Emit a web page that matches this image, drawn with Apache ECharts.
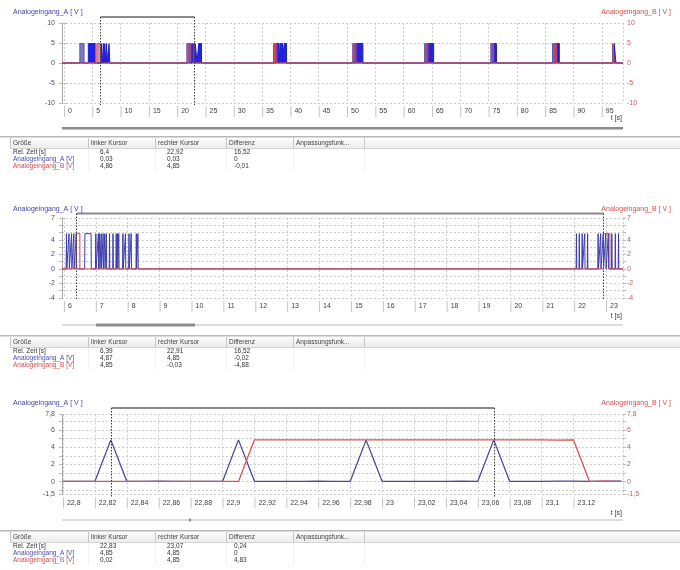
<!DOCTYPE html>
<html><head><meta charset="utf-8">
<script src="https://cdn.jsdelivr.net/npm/echarts@6/dist/echarts.min.js"></script>
<style>html,body{margin:0;padding:0;background:#fff}#c{width:680px;height:570px}</style>
</head><body><div id="c"></div>
<script>
// ---------------- data ----------------
const titleA = 'Analogeingang_A [ V ]';
const titleB = 'Analogeingang_B [ V ]';
const xUnit = 't [s]';
const pulseLevel = 4.85;

// Chart 1 : overview
const c1XTicks = [0,5,10,15,20,25,30,35,40,45,50,55,60,65,70,75,80,85,90,95];
const c1YLabels = [-10,-5,0,5,10];
const c1YGrid = [-10,-5,0,5,10];
const c1ADense = [[4.3,5.5],[6.6,6.8],[6.95,7.1],[7.2,7.35],[7.5,7.6],[7.95,8.1],[22.6,23.0],[23.2,23.5],[23.8,24.3],[37.6,38.0],[38.2,38.6],[38.9,39.3],[51.6,52.8],[64.3,65.3],[75.9,76.4],[87.0,87.5],[97.2,97.5]];
const c1ASparse = [[2.8,3.55],[21.7,22.5],[37.0,37.5],[51.0,51.5],[63.7,64.2],[75.4,75.8],[86.3,86.9],[96.9,97.15]];
const c1BPulses = [[5.8,6.45],[21.9,22.95],[37.2,37.6],[51.1,51.6],[63.9,64.3],[75.5,75.9],[86.5,87.0],[97.0,97.2]];
const c1Cursors = [6.4, 22.92];

// Chart 2 : 6 s – 23.5 s
const c2XTicks = [6,7,8,9,10,11,12,13,14,15,16,17,18,19,20,21,22,23];
const c2YLabels = [-4,-2,0,2,4,7];
const c2YGrid = [-4,-3,-2,-1,0,1,2,3,4,5,6,7];
const c2ASpikes = [6.08,6.16,6.24,6.31,6.39,7.0,7.08,7.12,7.17,7.23,7.28,7.33,7.43,7.54,7.64,7.68,7.72,7.85,7.93,8.04,8.11,8.27,8.32,22.07,22.16,22.25,22.33,22.42,22.75,22.83,22.91,22.99,23.07,23.18,23.29,23.39];
const c2ABlocks = [[6.65,6.86]];
const c2BPulses = [[6.38,6.5],[22.92,23.12]];
const c2Cursors = [6.39, 22.91];

// Chart 3 : 22.8 s – 23.15 s (samples every 10 ms)
const c3Time = [22.80,22.81,22.82,22.83,22.84,22.85,22.86,22.87,22.88,22.89,22.90,22.91,22.92,22.93,22.94,22.95,22.96,22.97,22.98,22.99,23.00,23.01,23.02,23.03,23.04,23.05,23.06,23.07,23.08,23.09,23.10,23.11,23.12,23.13,23.14,23.15];
const c3A    = [0.03,0.02,0.02,4.85,0.03,0.02,0.05,0.03,0.02,0.02,0.02,4.85,0.03,0.02,0.03,0.02,0.04,0.03,0.02,4.82,0.03,0.02,0.02,0.02,0.02,0.05,0.03,4.85,0.02,0.02,0.03,0.05,0.06,0.03,0.04,0.05];
const c3B    = [0.02,0.02,0.03,0.02,0.02,0.02,0.02,0.02,0.02,0.02,0.02,0.02,4.86,4.85,4.84,4.85,4.85,4.84,4.85,4.85,4.85,4.84,4.85,4.84,4.85,4.85,4.84,4.85,4.85,4.84,4.84,4.83,4.84,0.02,0.05,0.03];
const c3XTicks = [22.8,22.82,22.84,22.86,22.88,22.9,22.92,22.94,22.96,22.98,23,23.02,23.04,23.06,23.08,23.1,23.12];
const c3YLabels = [-1.5,0,2,4,6,7.8];
const c3YGrid = [-1.5,-1,0,1,2,3,4,5,6,7,7.8];
const c3Cursors = [22.83, 23.07];

// Tables
const tableHeader = ['Größe','linker Kursor','rechter Kursor','Differenz','Anpassungsfunk...'];
const rowNames = ['Rel. Zeit [s]','Analogeingang_A [V]','Analogeingang_B [V]'];
const table1 = [['6,4','22,92','16,52'],['0,03','0,03','0'],['4,86','4,85','-0,01']];
const table2 = [['6,39','22,91','16,52'],['4,87','4,85','-0,02'],['4,85','-0,03','-4,88']];
const table3 = [['22,83','23,07','0,24'],['4,85','4,85','0'],['0,02','4,85','4,83']];

// ---------------- helpers ----------------
const FONT = '"Liberation Sans", Arial, sans-serif';
const fmt = v => String(+(+v).toFixed(2)).replace('.', ',');
function blockLine(blocks, lvl, x0, x1){
  const pts=[[x0,0]];
  blocks.slice().sort((a,b)=>a[0]-b[0]).forEach(([s,e])=>{pts.push([s,0],[s,lvl],[e,lvl],[e,0]);});
  pts.push([x1,0]); return pts;
}
function shapeLine(spikes, blocks, lvl, x0, x1){
  const shapes=[];
  spikes.forEach(t=>shapes.push([[t-0.01,0],[t,lvl],[t+0.01,0]]));
  blocks.forEach(([s,e])=>shapes.push([[s,0],[s+0.01,lvl],[e-0.01,lvl],[e,0]]));
  shapes.sort((a,b)=>a[0][0]-b[0][0]);
  const pts=[[x0,0]]; shapes.forEach(s=>pts.push(...s)); pts.push([x1,0]); return pts;
}

const panels = [
  {top:23,  height:80, xMin:-0.35, xMax:98.75, yMin:-10, yMax:10, xTicks:c1XTicks, yLabels:c1YLabels, yGrid:c1YGrid, cursors:c1Cursors, bracket:6,  titleY:12,  unitY:118, scroll:{y:127, thumb:null, dark:true}},
  {top:218, height:80, xMin:5.94, xMax:23.53, yMin:-4, yMax:7, xTicks:c2XTicks, yLabels:c2YLabels, yGrid:c2YGrid, cursors:c2Cursors, bracket:4.5, titleY:209, unitY:316, scroll:{y:324, thumb:[96,195]}},
  {top:414.5, height:80, xMin:22.7994, xMax:23.151, yMin:-1.5, yMax:7.8, xTicks:c3XTicks, yLabels:c3YLabels, yGrid:c3YGrid, cursors:c3Cursors, bracket:6.5, titleY:403, unitY:513, scroll:{y:519, thumb:[189,191]}}
];
const GL = 62, GW = 561;

const grids=[], xAxes=[], yAxes=[];
panels.forEach((p,i)=>{
  grids.push({left:GL, width:GW, top:p.top, height:p.height, containLabel:false, outerBoundsMode:'none'});
  xAxes.push({type:'value', gridIndex:i, min:p.xMin, max:p.xMax,
    axisLine:{show:false}, axisTick:{show:false, customValues:p.xTicks.concat([p.xMax])},
    axisLabel:{customValues:p.xTicks, hideOverlap:false, align:'left', verticalAlign:'top', margin:3,
      formatter:v=>'{b|}{v|'+fmt(v)+'}',
      rich:{b:{width:1,height:11,backgroundColor:'#c4c4c4'}, v:{padding:[0,0,0,3], fontSize:7, fontFamily:FONT, color:'#404040', height:11}}},
    splitLine:{show:true, lineStyle:{color:'#cdcdcd', type:[2,2], width:1}}});
  yAxes.push({type:'value', gridIndex:i, min:p.yMin, max:p.yMax, position:'left',
    axisLine:{show:true, onZero:false, lineStyle:{color:'#a8a8a8'}},
    axisTick:{show:true, length:3, customValues:p.yGrid, lineStyle:{color:'#bcbcbc'}},
    axisLabel:{customValues:p.yLabels, formatter:fmt, color:'#4c4c7c', fontSize:7, fontFamily:FONT, margin:7, hideOverlap:false},
    splitLine:{show:true, lineStyle:{color:'#cdcdcd', type:[2,2], width:1}}});
  yAxes.push({type:'value', gridIndex:i, min:p.yMin, max:p.yMax, position:'right',
    axisLine:{show:false}, axisTick:{show:true, length:3, customValues:p.yGrid, lineStyle:{color:'#bcbcbc'}},
    axisLabel:{customValues:p.yLabels, formatter:fmt, color:'#c85a5a', fontSize:7, fontFamily:FONT, margin:4, hideOverlap:false},
    splitLine:{show:false}});
});

const base = {type:'line', showSymbol:false, symbol:'none', animation:false, clip:true};
const series = [
  Object.assign({}, base, {xAxisIndex:0, yAxisIndex:0, data:blockLine(c1ASparse,pulseLevel,panels[0].xMin,panels[0].xMax),
    lineStyle:{color:'#5a5aa8', width:1}, areaStyle:{color:'#7c7cc4', opacity:1}}),
  Object.assign({}, base, {xAxisIndex:0, yAxisIndex:0, data:blockLine(c1ADense,pulseLevel,panels[0].xMin,panels[0].xMax),
    lineStyle:{color:'#1c1cd8', width:1}, areaStyle:{color:'#2222e6', opacity:1}}),
  Object.assign({}, base, {xAxisIndex:0, yAxisIndex:1, data:blockLine(c1BPulses,pulseLevel,panels[0].xMin,panels[0].xMax),
    lineStyle:{color:'#d84646', width:1}, areaStyle:{color:'rgba(150,40,120,0.5)', opacity:1}}),
  Object.assign({}, base, {xAxisIndex:1, yAxisIndex:2, data:shapeLine(c2ASpikes,c2ABlocks,pulseLevel,panels[1].xMin,panels[1].xMax),
    lineStyle:{color:'#3c3cb0', width:1}}),
  Object.assign({}, base, {xAxisIndex:1, yAxisIndex:3, data:blockLine(c2BPulses,pulseLevel,panels[1].xMin,panels[1].xMax),
    lineStyle:{color:'#dc4444', width:1}}),
  Object.assign({}, base, {xAxisIndex:2, yAxisIndex:4, data:c3Time.map((t,k)=>[t,c3A[k]]),
    lineStyle:{color:'#4a4a9c', width:1.3}}),
  Object.assign({}, base, {xAxisIndex:2, yAxisIndex:5, data:c3Time.map((t,k)=>[t,c3B[k]]),
    lineStyle:{color:'#dc5252', width:1.3}})
];

const chart = echarts.init(document.getElementById('c'), null, {renderer:'canvas'});
chart.setOption({animation:false, backgroundColor:'#fff', grid:grids, xAxis:xAxes, yAxis:yAxes, series:series});

// ---------------- overlays (titles, cursors, scrollbars, tables) ----------------
const g = [];
const txt = (x,y,t,fill,align,size) => g.push({type:'text', silent:true, z:10, style:{x, y, text:t, fill, font:(size||7)+'px '+FONT, textAlign:align||'left', textVerticalAlign:'middle'}});
const line = (x1,y1,x2,y2,stroke,w,dash,z) => g.push({type:'line', silent:true, z:z||10, shape:{x1,y1,x2,y2}, style:{stroke, lineWidth:w||1, lineDash:dash||null}});
const rect = (x,y,w,h,fill,stroke) => g.push({type:'rect', silent:true, z:9, shape:{x,y,width:w,height:h}, style:{fill, stroke:stroke||null, lineWidth:1}});

panels.forEach((p,i)=>{
  txt(13, p.titleY, titleA, '#4545ae');
  txt(671, p.titleY, titleB, '#d64e4e', 'right');
  txt(622, p.unitY, xUnit, '#404040', 'right');
  const top = p.top, bot = p.top + p.height, by = top - p.bracket;
  const xs = p.cursors.map(c => Math.round(chart.convertToPixel({gridIndex:i}, [c, p.yMax])[0]) + 0.5);
  line(xs[0], by, xs[1], by, '#8a8a8a', 2);
  xs.forEach(x => line(x, by, x, bot + 2, '#3a3a3a', 1, [1.5,1.5], 11));
  if (p.scroll.dark) rect(GL, p.scroll.y, GW, 2.5, '#8c8c8c');
  else {
    rect(GL, p.scroll.y, GW, 2, '#dcdcdc');
    rect(p.scroll.thumb[0], p.scroll.y - 0.5, p.scroll.thumb[1]-p.scroll.thumb[0], 3, '#8c8c8c');
  }
});

const colX = [10, 88, 155, 226, 293, 364];
const valX = [100, 167, 234];
const rowColors = ['#333333', '#4a4ab4', '#d64a4a'];
function drawTable(y0, vals){
  rect(0, y0, 680, 1.5, '#b8b8b8');
  g.push({type:'rect', silent:true, z:9, shape:{x:colX[0], y:y0+2, width:680-colX[0], height:10},
    style:{fill:{type:'linear',x:0,y:0,x2:0,y2:1,colorStops:[{offset:0,color:'#fcfcfc'},{offset:1,color:'#ececec'}]}}});
  line(colX[0], y0+12.5, 680, y0+12.5, '#d4d4d4');
  colX.forEach(x => line(x+0.5, y0+2, x+0.5, y0+12, '#c6c6c6'));
  colX.slice(1).forEach(x => line(x+0.5, y0+13, x+0.5, y0+35, '#f2f2f2', 1, null, 8));
  tableHeader.forEach((h,k) => txt(colX[k]+3, y0+7.5, h, '#444444', 'left', 6.5));
  rowNames.forEach((n,r) => {
    const y = y0 + 16 + r*7;
    txt(13, y, n, rowColors[r], 'left', 6.5);
    vals[r].forEach((v,k) => txt(valX[k], y, v, '#333333', 'left', 6.5));
  });
}
drawTable(136, table1);
drawTable(335, table2);
drawTable(530, table3);

chart.setOption({graphic:{elements:g}});
</script>
</body></html>
